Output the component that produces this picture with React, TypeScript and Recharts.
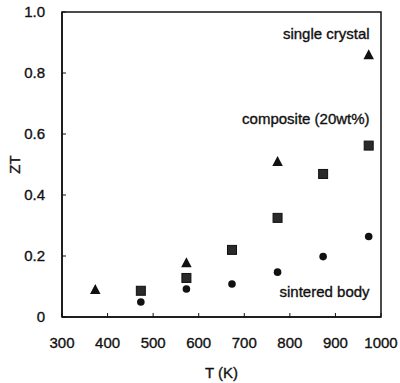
import {
    ScatterChart, Scatter, XAxis, YAxis, ReferenceArea, ReferenceDot,
} from "recharts";

const singleCrystalT = [373, 573, 773, 973];
const singleCrystalZT = [0.09, 0.178, 0.51, 0.86];

const compositeT = [473, 573, 673, 773, 873, 973];
const compositeZT = [0.086, 0.128, 0.22, 0.325, 0.469, 0.562];

const sinteredT = [473, 573, 673, 773, 873, 973];
const sinteredZT = [0.049, 0.092, 0.108, 0.147, 0.198, 0.264];

const xTicks = [300, 400, 500, 600, 700, 800, 900, 1000];
const yTicks = [0, 0.2, 0.4, 0.6, 0.8, 1.0];

const seriesNames = ["single crystal", "composite (20wt%)", "sintered body"];
const noteX = [975, 975, 975];
const noteY = [0.93, 0.65, 0.085];

const INK = "#111";
const FONT = "'Liberation Sans', Arial, sans-serif";
// scanned text looks heavier than a plain regular face
const textLook = {fontFamily: FONT, fontSize: 15, fill: INK, stroke: INK, strokeWidth: 0.35};

const toPoints = (xs: number[], ys: number[]) => xs.map((x, i) => ({x, y: ys[i]}));

const Triangle = (p: any) => {
    const {cx, cy} = p;
    const h = 9, w = 10.5;
    return <polygon points={`${cx},${cy - h / 2 - 1} ${cx - w / 2},${cy + h / 2} ${cx + w / 2},${cy + h / 2}`} fill={INK}/>;
};

const Square = (p: any) => {
    const {cx, cy} = p;
    const s = 9;
    return <rect x={cx - s / 2} y={cy - s / 2} width={s} height={s} fill="#2a2a2a" stroke={INK} strokeWidth={1}/>;
};

const Circle = (p: any) => {
    const {cx, cy} = p;
    return <circle cx={cx} cy={cy} r={3.8} fill={INK}/>;
};

function Note(props: any) {
    const {viewBox, value} = props;
    return (
        <text x={viewBox.x} y={viewBox.y} textAnchor="end" dominantBaseline="central" {...textLook}>
            {value}
        </text>
    );
}

export default function App() {
    return (
        <div style={{position: "absolute", left: 0, top: 0, background: "#fff"}}>
            <ScatterChart width={400} height={383} margin={{top: 12, right: 19, bottom: 0, left: 0}}>
                <XAxis type="number" dataKey="x" domain={[300, 1000]} ticks={xTicks}
                       allowDataOverflow height={66}
                       tickSize={-4} tickMargin={24} tick={textLook}
                       axisLine={{stroke: INK, strokeWidth: 1.5}} tickLine={{stroke: INK}}
                       label={{value: "T (K)", position: "insideBottom", offset: 5, style: textLook}}/>
                <YAxis type="number" dataKey="y" domain={[0, 1]} ticks={yTicks}
                       allowDataOverflow width={62}
                       tickSize={-4} tickMargin={21} tick={textLook}
                       tickFormatter={(v: number) => (v === 0 ? "0" : v.toFixed(1))}
                       axisLine={{stroke: INK, strokeWidth: 1.5}} tickLine={{stroke: INK}}
                       label={{value: "ZT", angle: -90, position: "insideLeft", offset: 15,
                           style: {...textLook, textAnchor: "middle"}}}/>
                <ReferenceArea x1={300} x2={1000} y1={0} y2={1} fill="none"
                               stroke={INK} strokeWidth={1.5} ifOverflow="visible"/>
                <Scatter name={seriesNames[0]} data={toPoints(singleCrystalT, singleCrystalZT)}
                         shape={Triangle} isAnimationActive={false}/>
                <Scatter name={seriesNames[1]} data={toPoints(compositeT, compositeZT)}
                         shape={Square} isAnimationActive={false}/>
                <Scatter name={seriesNames[2]} data={toPoints(sinteredT, sinteredZT)}
                         shape={Circle} isAnimationActive={false}/>
                {seriesNames.map((name, i) => (
                    <ReferenceDot key={name} x={noteX[i]} y={noteY[i]} r={0} stroke="none" fill="none"
                                  label={<Note value={name}/>} ifOverflow="visible"/>
                ))}
            </ScatterChart>
        </div>
    );
}
